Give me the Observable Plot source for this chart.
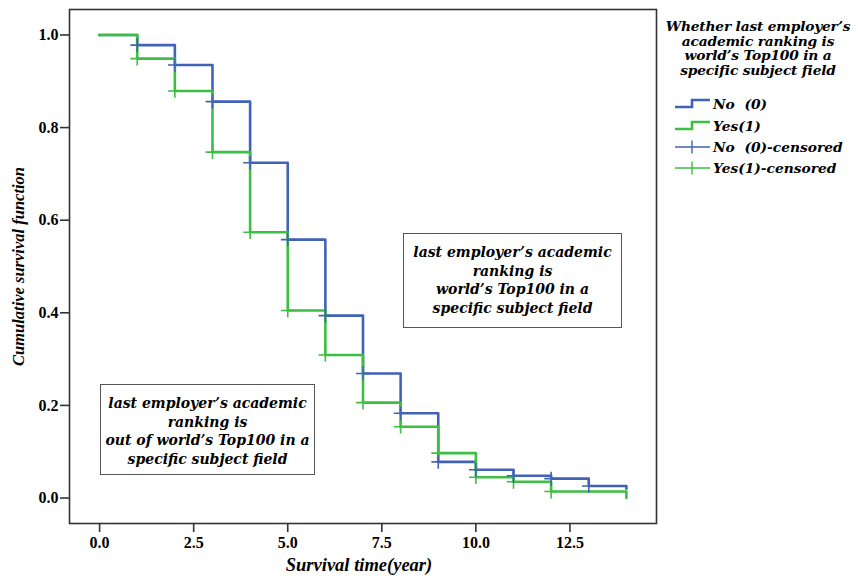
<!DOCTYPE html>
<html>
<head>
<meta charset="utf-8">
<script src="https://cdn.jsdelivr.net/npm/d3@7"></script>
<script src="https://cdn.jsdelivr.net/npm/@observablehq/plot@0.6"></script>
<style>
  body { margin: 0; background: #fff; }
  #wrap { position: relative; width: 858px; height: 581px; overflow: hidden; }
  #wrap svg.plot { position: absolute; left: 0; top: 0; }
  .serif { font-family: "DejaVu Serif", "Liberation Serif", serif; font-weight: bold; font-style: italic; color: #000; }
  .box { position: absolute; border: 1.5px solid #555; background: #fff; text-align: center; font-size: 14px; line-height: 18.5px; box-sizing: border-box; }
  #legend { position: absolute; left: 658px; top: 19px; width: 200px; }
  #legend .title { text-align: center; font-size: 13.8px; line-height: 15px; letter-spacing: -0.2px; }
  #legend .title div { height: 14.5px; overflow: visible; }
  #legend .item { position: absolute; left: 17px; height: 20px; display: flex; align-items: center; font-size: 13.8px; }
  #legend .item svg { margin-right: 2px; }
</style>
</head>
<body>
<div id="wrap"></div>
<script>
// ---- data ----
const years = [0, 1, 2, 3, 4, 5, 6, 7, 8, 9, 10, 11, 12, 13, 14];
const survivalNo  = [1.0, 0.978, 0.935, 0.856, 0.724, 0.558, 0.394, 0.269, 0.183, 0.078, 0.061, 0.048, 0.042, 0.026, 0.020];
const survivalYes = [1.0, 0.949, 0.879, 0.747, 0.574, 0.405, 0.309, 0.206, 0.154, 0.097, 0.045, 0.035, 0.014, 0.014, 0.0];
const censoredYearsNo  = [1, 2, 3, 4, 5, 6, 7, 8, 9, 10, 11, 12, 13];
const censoredYearsYes = [1, 2, 3, 4, 5, 6, 7, 8, 9, 10, 11, 12];
const xTicks = [0, 2.5, 5, 7.5, 10, 12.5];
const yTicks = [0, 0.2, 0.4, 0.6, 0.8, 1.0];
const groupLabels = ["No  (0)", "Yes(1)", "No  (0)-censored", "Yes(1)-censored"];
const legendTitle = ["Whether last employer\u2019s", "academic ranking is", "world\u2019s Top100 in a", "specific subject field"];
const noteTop100 = ["last employer\u2019s academic", "ranking is", "world\u2019s Top100 in a", "specific subject field"];
const noteOut = ["last employer\u2019s academic", "ranking is", "out of world\u2019s Top100 in a", "specific subject field"];
const xLabel = "Survival time(year)";
const yLabel = "Cumulative survival function";

const blue = "#4262b8";
const green = "#3cbf42";

const lineNo = years.map((t, i) => ({t, s: survivalNo[i]}));
const lineYes = years.map((t, i) => ({t, s: survivalYes[i]}));
const censNo = censoredYearsNo.map(t => ({t, s: survivalNo[years.indexOf(t)]}));
const censYes = censoredYearsYes.map(t => ({t, s: survivalYes[years.indexOf(t)]}));

const chart = Plot.plot({
  width: 858,
  height: 581,
  marginLeft: 69,
  marginRight: 202,
  marginTop: 9,
  marginBottom: 58,
  style: {fontFamily: "Liberation Serif, serif", fontSize: "16px", fontWeight: "bold", color: "#000", background: "transparent"},
  x: {domain: [-0.8, 14.8]},
  y: {domain: [-0.055, 1.055]},
  marks: [
    Plot.frame({stroke: "#333", strokeWidth: 1.6}),
    Plot.axisX({ticks: xTicks, tickFormat: d3.format(".1f"), tickSize: 9, tickPadding: 4, stroke: "#333", strokeWidth: 1.6, label: null, fontSize: 16, fontWeight: "bold", fill: "#000"}),
    Plot.axisY({ticks: yTicks, tickFormat: d3.format(".1f"), tickSize: 9, tickPadding: 2, stroke: "#333", strokeWidth: 1.6, label: null, fontSize: 16, fontWeight: "bold", fill: "#000"}),
    Plot.line(lineNo, {x: "t", y: "s", curve: "step-after", stroke: blue, strokeWidth: 2.6}),
    Plot.line(lineYes, {x: "t", y: "s", curve: "step-after", stroke: green, strokeWidth: 2.6}),
    Plot.dot([lineYes[0]], {x: "t", y: "s", r: 1.5, fill: green}),
    Plot.dot(censYes, {x: "t", y: "s", symbol: "plus", r: 4.5, stroke: green, strokeWidth: 1.6}),
    Plot.dot(censNo, {x: "t", y: "s", symbol: "plus", r: 4.5, stroke: blue, strokeWidth: 1.6}),
    Plot.text([xLabel], {frameAnchor: "bottom", dy: 47, dx: -4, text: d => d, fontSize: 18.5, fontStyle: "italic", fontWeight: "bold", fill: "#000"}),
    Plot.text([yLabel], {frameAnchor: "left", dx: -51, rotate: -90, textAnchor: "middle", text: d => d, fontSize: 16.5, fontStyle: "italic", fontWeight: "bold", fill: "#000"})
  ]
});
chart.classList.add("plot");
const wrap = document.getElementById("wrap");
wrap.appendChild(chart);

// annotation boxes
function addBox(lines, left, top, width, height) {
  const div = document.createElement("div");
  div.className = "box serif";
  Object.assign(div.style, {left: left + "px", top: top + "px", width: width + "px", height: height + "px", paddingTop: "9px"});
  div.innerHTML = lines.map(l => `<div>${l}</div>`).join("");
  wrap.appendChild(div);
}
addBox(noteTop100, 403, 233, 219, 95);
addBox(noteOut, 100, 384, 215, 91);

// legend
const legend = document.createElement("div");
legend.id = "legend";
legend.className = "serif";
legend.innerHTML = `<div class="title">${legendTitle.map(l => `<div>${l}</div>`).join("")}</div>`;
const itemTops = [75, 97, 118, 139];
const colors = [blue, green, blue, green];
groupLabels.forEach((label, i) => {
  const item = document.createElement("div");
  item.className = "item";
  item.style.top = itemTops[i] + "px";
  const c = colors[i];
  const sw = i < 2
    ? `<svg width="36" height="14"><path d="M0,10 H17 V3 H35" fill="none" stroke="${c}" stroke-width="2.6"/></svg>`
    : `<svg width="36" height="14"><path d="M0,7 H35 M17,0.5 V13.5" fill="none" stroke="${c}" stroke-width="1.4"/></svg>`;
  item.innerHTML = sw + `<span style="white-space:pre">${label}</span>`;
  legend.appendChild(item);
});
wrap.appendChild(legend);
</script>
</body>
</html>
